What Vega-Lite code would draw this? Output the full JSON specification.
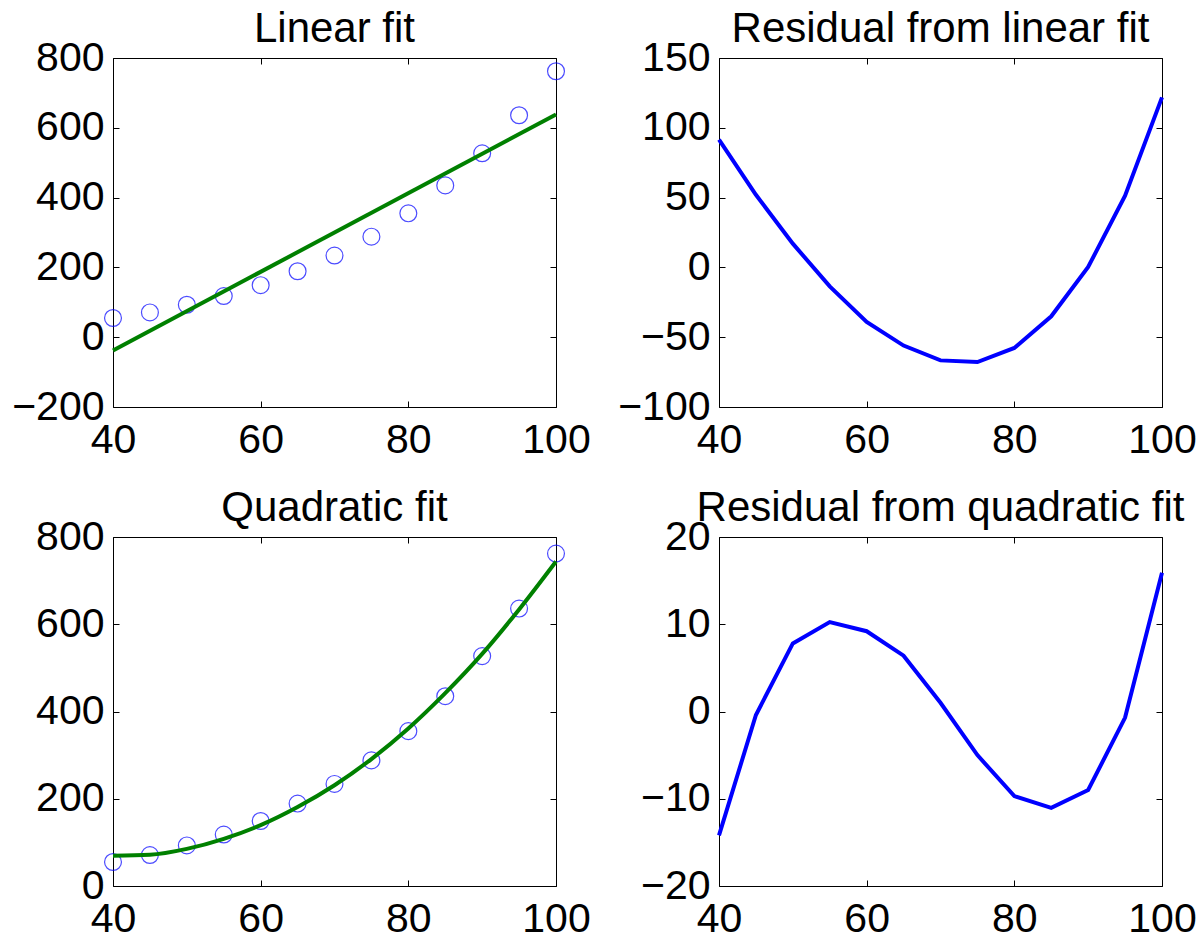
{
  "$schema": "https://vega.github.io/schema/vega-lite/v6.json",
  "background": "white",
  "padding": {"left": 11, "top": 7, "right": 4, "bottom": 6},
  "bounds": "flush",
  "columns": 2,
  "spacing": {"row": 130, "column": 163},
  "datasets": {
    "pts": [
      {"x": 40, "y": 55}, {"x": 45, "y": 71}, {"x": 50, "y": 93}, {"x": 55, "y": 118},
      {"x": 60, "y": 149}, {"x": 65, "y": 189}, {"x": 70, "y": 234}, {"x": 75, "y": 288},
      {"x": 80, "y": 355}, {"x": 85, "y": 435}, {"x": 90, "y": 527}, {"x": 95, "y": 636},
      {"x": 100, "y": 762}
    ],
    "linfit": [{"x": 40, "y": -38}, {"x": 100, "y": 638}],
    "linres": [
      {"x": 40, "r": 91.5}, {"x": 45, "r": 52}, {"x": 50, "r": 17}, {"x": 55, "r": -13.6},
      {"x": 60, "r": -39}, {"x": 65, "r": -56}, {"x": 70, "r": -66.6}, {"x": 75, "r": -67.8},
      {"x": 80, "r": -57.7}, {"x": 85, "r": -35}, {"x": 90, "r": 0.3}, {"x": 95, "r": 51.4},
      {"x": 100, "r": 121.8}
    ],
    "quadfit": [
      {"x": 40, "y": 69.5}, {"x": 45, "y": 71.5}, {"x": 50, "y": 85}, {"x": 55, "y": 108},
      {"x": 60, "y": 139.5}, {"x": 65, "y": 181}, {"x": 70, "y": 231}, {"x": 75, "y": 291},
      {"x": 80, "y": 361}, {"x": 85, "y": 442}, {"x": 90, "y": 532}, {"x": 95, "y": 634},
      {"x": 100, "y": 744}
    ],
    "quadres": [
      {"x": 40, "r": -14.2}, {"x": 45, "r": -0.4}, {"x": 50, "r": 7.8}, {"x": 55, "r": 10.25},
      {"x": 60, "r": 9.2}, {"x": 65, "r": 6.4}, {"x": 70, "r": 1.0}, {"x": 75, "r": -5.0},
      {"x": 80, "r": -9.7}, {"x": 85, "r": -11.05}, {"x": 90, "r": -9.0}, {"x": 95, "r": -0.7},
      {"x": 100, "r": 15.9}
    ]
  },
  "concat": [
    {
      "width": 443, "height": 349,
      "title": {"text": "Linear fit"},
      "layer": [
        {
          "data": {"name": "pts"},
          "mark": {"type": "point", "shape": "circle", "filled": false, "color": "#0000ff", "size": 285, "strokeWidth": 1.2},
          "encoding": {
            "x": {"field": "x", "type": "quantitative", "title": null, "scale": {"domain": [40, 100], "nice": false, "zero": false}, "axis": {"orient": "bottom", "values": [40, 60, 80, 100]}},
            "y": {"field": "y", "type": "quantitative", "title": null, "scale": {"domain": [-200, 800], "nice": false, "zero": false}, "axis": {"orient": "left", "values": [-200, 0, 200, 400, 600, 800], "format": "d"}}
          }
        },
        {
          "data": {"name": "linfit"},
          "mark": {"type": "line", "color": "#008000", "strokeWidth": 4},
          "encoding": {
            "x": {"field": "x", "type": "quantitative", "title": null, "scale": {"domain": [40, 100], "nice": false, "zero": false}, "axis": {"orient": "top", "labels": false, "values": [40, 60, 80, 100]}},
            "y": {"field": "y", "type": "quantitative", "title": null, "scale": {"domain": [-200, 800], "nice": false, "zero": false}, "axis": {"orient": "right", "labels": false, "values": [-200, 0, 200, 400, 600, 800]}}
          }
        }
      ],
      "resolve": {"axis": {"x": "independent", "y": "independent"}}
    },
    {
      "width": 443, "height": 349,
      "title": {"text": "Residual from linear fit"},
      "layer": [
        {
          "data": {"name": "linres"},
          "mark": {"type": "line", "color": "#0000ff", "strokeWidth": 4},
          "encoding": {
            "x": {"field": "x", "type": "quantitative", "title": null, "scale": {"domain": [40, 100], "nice": false, "zero": false}, "axis": {"orient": "bottom", "values": [40, 60, 80, 100]}},
            "y": {"field": "r", "type": "quantitative", "title": null, "scale": {"domain": [-100, 150], "nice": false, "zero": false}, "axis": {"orient": "left", "values": [-100, -50, 0, 50, 100, 150], "format": "d"}}
          }
        },
        {
          "data": {"name": "linres"},
          "mark": {"type": "line", "color": "#0000ff", "strokeWidth": 4, "opacity": 0},
          "encoding": {
            "x": {"field": "x", "type": "quantitative", "title": null, "scale": {"domain": [40, 100], "nice": false, "zero": false}, "axis": {"orient": "top", "labels": false, "values": [40, 60, 80, 100]}},
            "y": {"field": "r", "type": "quantitative", "title": null, "scale": {"domain": [-100, 150], "nice": false, "zero": false}, "axis": {"orient": "right", "labels": false, "values": [-100, -50, 0, 50, 100, 150]}}
          }
        }
      ],
      "resolve": {"axis": {"x": "independent", "y": "independent"}}
    },
    {
      "width": 443, "height": 349,
      "title": {"text": "Quadratic fit"},
      "layer": [
        {
          "data": {"name": "pts"},
          "mark": {"type": "point", "shape": "circle", "filled": false, "color": "#0000ff", "size": 285, "strokeWidth": 1.2},
          "encoding": {
            "x": {"field": "x", "type": "quantitative", "title": null, "scale": {"domain": [40, 100], "nice": false, "zero": false}, "axis": {"orient": "bottom", "values": [40, 60, 80, 100]}},
            "y": {"field": "y", "type": "quantitative", "title": null, "scale": {"domain": [0, 800], "nice": false, "zero": false}, "axis": {"orient": "left", "values": [0, 200, 400, 600, 800], "format": "d"}}
          }
        },
        {
          "data": {"name": "quadfit"},
          "mark": {"type": "line", "color": "#008000", "strokeWidth": 4, "interpolate": "monotone"},
          "encoding": {
            "x": {"field": "x", "type": "quantitative", "title": null, "scale": {"domain": [40, 100], "nice": false, "zero": false}, "axis": {"orient": "top", "labels": false, "values": [40, 60, 80, 100]}},
            "y": {"field": "y", "type": "quantitative", "title": null, "scale": {"domain": [0, 800], "nice": false, "zero": false}, "axis": {"orient": "right", "labels": false, "values": [0, 200, 400, 600, 800]}}
          }
        }
      ],
      "resolve": {"axis": {"x": "independent", "y": "independent"}}
    },
    {
      "width": 443, "height": 349,
      "title": {"text": "Residual from quadratic fit"},
      "layer": [
        {
          "data": {"name": "quadres"},
          "mark": {"type": "line", "color": "#0000ff", "strokeWidth": 4},
          "encoding": {
            "x": {"field": "x", "type": "quantitative", "title": null, "scale": {"domain": [40, 100], "nice": false, "zero": false}, "axis": {"orient": "bottom", "values": [40, 60, 80, 100]}},
            "y": {"field": "r", "type": "quantitative", "title": null, "scale": {"domain": [-20, 20], "nice": false, "zero": false}, "axis": {"orient": "left", "values": [-20, -10, 0, 10, 20], "format": "d"}}
          }
        },
        {
          "data": {"name": "quadres"},
          "mark": {"type": "line", "color": "#0000ff", "strokeWidth": 4, "opacity": 0},
          "encoding": {
            "x": {"field": "x", "type": "quantitative", "title": null, "scale": {"domain": [40, 100], "nice": false, "zero": false}, "axis": {"orient": "top", "labels": false, "values": [40, 60, 80, 100]}},
            "y": {"field": "r", "type": "quantitative", "title": null, "scale": {"domain": [-20, 20], "nice": false, "zero": false}, "axis": {"orient": "right", "labels": false, "values": [-20, -10, 0, 10, 20]}}
          }
        }
      ],
      "resolve": {"axis": {"x": "independent", "y": "independent"}}
    }
  ],
  "config": {
    "font": "Liberation Sans",
    "view": {"stroke": "black", "strokeWidth": 1},
    "axis": {
      "labelFont": "Liberation Sans", "labelFontSize": 41, "labelColor": "black",
      "tickColor": "black", "tickSize": -6, "tickWidth": 1,
      "domain": false, "grid": false, "labelFlush": false, "labelOverlap": false
    },
    "axisX": {"labelPadding": 19},
    "axisY": {"labelPadding": 15},
    "title": {"font": "Liberation Sans", "fontSize": 42, "fontWeight": "normal", "color": "black", "baseline": "alphabetic", "offset": -14, "anchor": "middle"}
  }
}
